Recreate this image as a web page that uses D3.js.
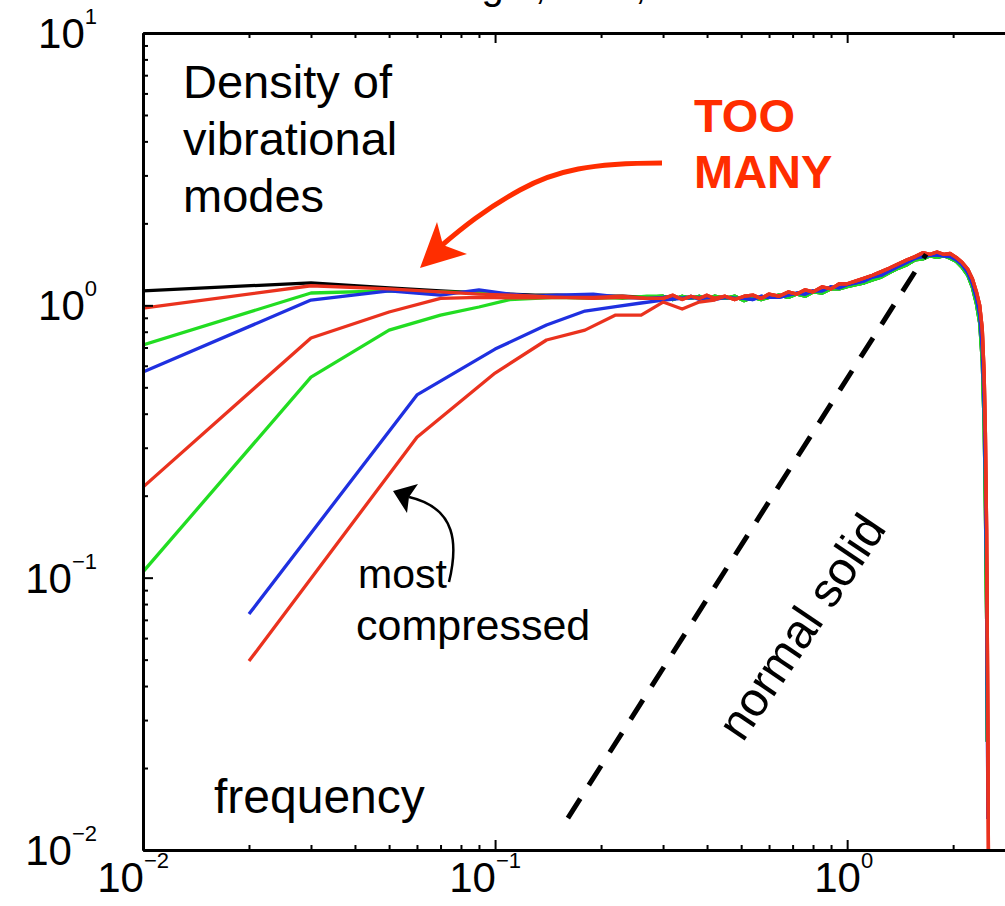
<!DOCTYPE html>
<html>
<head>
<meta charset="utf-8">
<script src="https://cdn.jsdelivr.net/npm/d3@7"></script>
<style>
  body { margin: 0; background: #fff; }
  svg { display: block; font-family: "Liberation Sans", Arial, Helvetica, sans-serif; }
  .axis path { stroke: #000; stroke-width: 3; }
  .axis line { stroke: #000; stroke-width: 2; }
</style>
</head>
<body>
<div id="chart"></div>
<script>
// frequency bins (two bin widths)
var fineFreq   = [0.01, 0.03, 0.05, 0.07, 0.09, 0.11, 0.13, 0.15, 0.19, 0.23, 0.27];
var coarseFreq = [0.02, 0.06, 0.10, 0.14, 0.18, 0.22, 0.26, 0.30, 0.34, 0.38, 0.42];

// low frequency part of each curve
var blackLow  = [1.13, 1.21, 1.16, 1.13, 1.11, 1.10, 1.09, 1.09, 1.08, 1.08, 1.07];
var red1Low   = [0.977, 1.18, 1.15, 1.12, 1.10, 1.09, 1.08, 1.07, 1.07, 1.08, 1.06];
var green1Low = [0.715, 1.11, 1.13, 1.12, 1.11, 1.09, 1.08, 1.07, 1.08, 1.06, 1.08];
var blue1Low  = [0.569, 1.046, 1.13, 1.09, 1.14, 1.10, 1.08, 1.09, 1.10, 1.07, 1.06];
var red2Low   = [0.215, 0.759, 0.945, 1.06, 1.07, 1.065, 1.065, 1.07, 1.06, 1.07, 1.06];
var green2Low = [0.105, 0.545, 0.811, 0.921, 0.986, 1.05, 1.06, 1.07, 1.06, 1.07, 1.07];
var blue2Low  = [0.0735, 0.469, 0.691, 0.847, 0.953, 0.99, 1.02, 1.046, 1.06, 1.07, 1.06];
var red3Low   = [0.0494, 0.328, 0.564, 0.746, 0.811, 0.921, 0.921, 1.028, 0.969, 1.028, 1.046];

// common high frequency part (noisy plateau, peak, cutoff)
var tailFreq = [0.30, 0.32, 0.34, 0.36, 0.38, 0.40, 0.42,
                0.45, 0.48, 0.51, 0.54, 0.57, 0.60,
                0.64, 0.68, 0.72, 0.76, 0.80,
                0.85, 0.90, 0.95, 1.00,
                1.06, 1.12, 1.18, 1.25, 1.32, 1.40, 1.48, 1.56, 1.64, 1.72, 1.80, 1.88, 1.96, 2.04, 2.12, 2.20,
                2.27, 2.33, 2.38, 2.42, 2.45, 2.47, 2.49, 2.50, 2.51, 2.52];
var redTail   = [1.06, 1.09, 1.05, 1.08, 1.06, 1.09, 1.06,
                 1.08, 1.05, 1.08, 1.09, 1.06, 1.10,
                 1.08, 1.12, 1.10, 1.14, 1.12,
                 1.17, 1.15, 1.20, 1.20,
                 1.23, 1.26, 1.29, 1.33, 1.37, 1.42, 1.47, 1.51, 1.56, 1.54, 1.57, 1.54, 1.55, 1.50, 1.44, 1.36,
                 1.25, 1.12, 1.00, 0.82, 0.56, 0.34, 0.15, 0.07, 0.03, 0.009];
var greenTail = [1.08, 1.05, 1.08, 1.06, 1.08, 1.05, 1.08,
                 1.06, 1.08, 1.04, 1.07, 1.05, 1.07,
                 1.09, 1.07, 1.10, 1.08, 1.12,
                 1.11, 1.15, 1.15, 1.17,
                 1.19, 1.21, 1.24, 1.27, 1.32, 1.37, 1.41, 1.47, 1.48, 1.52, 1.50, 1.52, 1.49, 1.45, 1.38, 1.29,
                 1.16, 1.01, 0.86, 0.62, 0.36, 0.18, 0.07, 0.025, null, null];
var blueTail  = [1.07, 1.08, 1.06, 1.08, 1.05, 1.07, 1.05,
                 1.07, 1.06, 1.06, 1.05, 1.08, 1.07,
                 1.07, 1.09, 1.11, 1.10, 1.13,
                 1.13, 1.17, 1.16, 1.19,
                 1.21, 1.23, 1.27, 1.29, 1.34, 1.39, 1.44, 1.49, 1.51, 1.53, 1.53, 1.52, 1.51, 1.47, 1.41, 1.32,
                 1.20, 1.06, 0.92, 0.70, 0.44, 0.24, 0.10, 0.04, 0.013, null];

// "normal solid" reference line, D ~ w^2
var solidFreq = [0.161, 1.676];
var solidD    = [0.0131, 1.54];

// tick labels
var xMajor = [0.01, 0.1, 1];
var xTickExp = ["\u22122", "\u22121", "0"];
var yMajor = [0.01, 0.1, 1, 10];
var yTickExp = ["\u22122", "\u22121", "0", "1"];

var RED = "#ea321e", GREEN = "#22dd22", BLUE = "#1f30e0", BLACK = "#000";

var series = [
  {freq: fineFreq,   low: blackLow,  tail: greenTail, color: BLACK},
  {freq: fineFreq,   low: green2Low, tail: greenTail, color: GREEN},
  {freq: fineFreq,   low: green1Low, tail: greenTail, color: GREEN},
  {freq: coarseFreq, low: blue2Low,  tail: blueTail,  color: BLUE},
  {freq: fineFreq,   low: blue1Low,  tail: blueTail,  color: BLUE},
  {freq: coarseFreq, low: red3Low,   tail: redTail,   color: RED},
  {freq: fineFreq,   low: red2Low,   tail: redTail,   color: RED},
  {freq: fineFreq,   low: red1Low,   tail: redTail,   color: RED}
];

var margin = {top: 33, left: 143},
    width = 882,
    height = 817;

var svg = d3.select("#chart")
  .append("svg")
    .attr("width", 1005)
    .attr("height", 906);

// title, cut off at the top edge in the original (only descenders show)
svg.append("text")
  .attr("x", 288)
  .attr("y", -1)
  .style("font-size", "40px")
  .text("Liu and Nagel, PRL, 2005");

var g = svg.append("g")
  .attr("transform", "translate(" + margin.left + "," + margin.top + ")");

var x = d3.scaleLog().domain([0.01, 3.2]).range([0, width]);
var y = d3.scaleLog().domain([0.01, 10]).range([height, 0]);

function isMajor(v) {
  var l = Math.log10(v);
  return Math.abs(l - Math.round(l)) < 1e-6;
}
var xMinor = x.ticks().filter(function(v) { return !isMajor(v); });
var yMinor = y.ticks().filter(function(v) { return !isMajor(v); });

g.append("clipPath").attr("id", "plotclip")
  .append("rect").attr("width", width).attr("height", height);

// curves
var line = d3.line()
  .defined(function(p) { return p.d != null; })
  .x(function(p) { return x(p.f); })
  .y(function(p) { return y(p.d); });

series.forEach(function(s) {
  var pts = s.low.map(function(v, i) { return {f: s.freq[i], d: v}; });
  var lastF = s.freq[s.low.length - 1];
  tailFreq.forEach(function(f, i) {
    if (f > lastF) pts.push({f: f, d: s.tail[i]});
  });
  g.append("path")
    .datum(pts)
    .attr("clip-path", "url(#plotclip)")
    .attr("fill", "none")
    .attr("stroke", s.color)
    .attr("stroke-width", 3.3)
    .attr("stroke-linejoin", "round")
    .attr("d", line);
});

// normal solid dashed line
g.append("path")
  .datum(solidFreq.map(function(f, i) { return {f: f, d: solidD[i]}; }))
  .attr("fill", "none")
  .attr("stroke", "#000")
  .attr("stroke-width", 5)
  .attr("stroke-dasharray", "23,16")
  .attr("d", line);

// axes: ticks inside on all sides
function addAxis(axisFn, scale, vals, size, transform) {
  g.append("g")
    .attr("class", "axis")
    .attr("transform", transform || null)
    .call(axisFn(scale).tickValues(vals).tickSize(size).tickSizeOuter(0).tickFormat(""));
}
addAxis(d3.axisBottom, x, xMinor, -5, "translate(0," + height + ")");
addAxis(d3.axisBottom, x, xMajor, -10, "translate(0," + height + ")");
addAxis(d3.axisTop, x, xMinor, -5);
addAxis(d3.axisTop, x, xMajor, -10);
addAxis(d3.axisLeft, y, yMinor, -5);
addAxis(d3.axisLeft, y, yMajor, -10);

// tick labels 10^n
var ylab = g.selectAll(".ylab")
  .data(yMajor)
  .enter()
  .append("text")
    .attr("x", -46)
    .attr("y", function(d) { return y(d) + 15; })
    .attr("text-anchor", "end")
    .style("font-size", "42px");
ylab.append("tspan").text("10");
ylab.append("tspan")
  .attr("dy", -24)
  .style("font-size", "22px")
  .text(function(d, i) { return yTickExp[i]; });

var xlab = g.selectAll(".xlab")
  .data(xMajor)
  .enter()
  .append("text")
    .attr("x", function(d) { return x(d) + 26; })
    .attr("y", height + 42)
    .attr("text-anchor", "end")
    .style("font-size", "42px");
xlab.append("tspan").text("10");
xlab.append("tspan")
  .attr("dy", -24)
  .style("font-size", "22px")
  .text(function(d, i) { return xTickExp[i]; });

// annotations
var notes = svg.append("g");

notes.append("text").attr("x", 183).attr("y", 98).style("font-size", "47px").text("Density of");
notes.append("text").attr("x", 183).attr("y", 155).style("font-size", "47px").text("vibrational");
notes.append("text").attr("x", 183).attr("y", 212).style("font-size", "47px").text("modes");

notes.append("text").attr("x", 214).attr("y", 813).style("font-size", "48px").text("frequency");

notes.append("text").attr("x", 694).attr("y", 132)
  .style("font-size", "47px").style("font-weight", "bold").attr("fill", "#ff2d00").text("TOO");
notes.append("text").attr("x", 694).attr("y", 188)
  .style("font-size", "47px").style("font-weight", "bold").attr("fill", "#ff2d00").text("MANY");

// red arrow
notes.append("path")
  .attr("d", "M662,163 C592,163 556,170 520,190 S462,228 441,246")
  .attr("fill", "none")
  .attr("stroke", "#ff2d00")
  .attr("stroke-width", 5);
notes.append("path")
  .attr("d", "M420,268 L437,222 L443,245 L467,254 Z")
  .attr("fill", "#ff2d00");

notes.append("text").attr("x", 358).attr("y", 588).style("font-size", "41px").text("most");
notes.append("text").attr("x", 356).attr("y", 640).style("font-size", "43px").text("compressed");

// black arrow
notes.append("path")
  .attr("d", "M449,582 C458,545 457,508 409,497")
  .attr("fill", "none")
  .attr("stroke", "#000")
  .attr("stroke-width", 2.5);
notes.append("path")
  .attr("d", "M393,491 L418,484 L409,497 L407,513 Z")
  .attr("fill", "#000");

notes.append("text")
  .attr("transform", "translate(815,636) rotate(-56)")
  .attr("text-anchor", "middle")
  .style("font-size", "48px")
  .text("normal solid");
</script>
</body>
</html>
